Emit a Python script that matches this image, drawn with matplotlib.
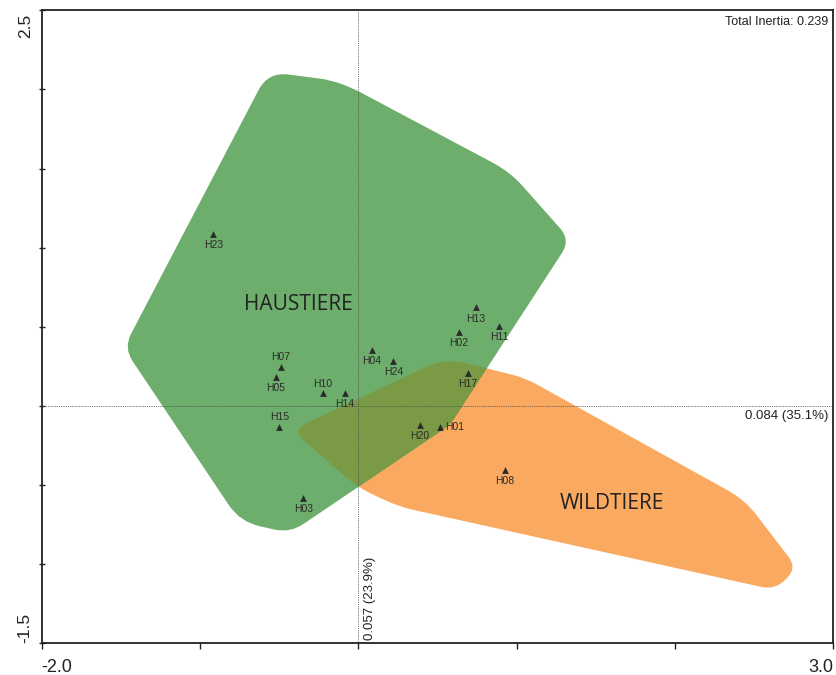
import numpy as np
import matplotlib
matplotlib.use("Agg")
import matplotlib.pyplot as plt
from matplotlib.path import Path
from matplotlib.patches import PathPatch
import matplotlib.transforms as mtransforms

plt.rcParams["font.family"] = ["Liberation Sans", "DejaVu Sans"]

# Sample scores on the first two CA dimensions
site_labels = ["H23", "H13", "H11", "H02", "H04", "H24", "H07", "H05",
               "H10", "H14", "H17", "H15", "H20", "H01", "H08", "H03"]
dim1 = [-0.916, 0.744, 0.891, 0.636, 0.085, 0.221, -0.490, -0.522,
        -0.225, -0.086, 0.691, -0.499, 0.390, 0.516, 0.927, -0.347]
dim2 = [1.087, 0.622, 0.506, 0.470, 0.354, 0.284, 0.245, 0.185,
        0.080, 0.084, 0.207, -0.131, -0.120, -0.131, -0.404, -0.583]
label_side = ["below", "below", "below", "below", "below", "below", "above", "below",
              "above", "below", "below", "above", "below", "right", "below", "below"]

# Group envelopes (hull outlines, drawn with rounded corners)
haus_x = [-0.570, -0.179, -0.040, 0.958, 1.340, 0.579, -0.431, -0.747, -1.482]
haus_y = [2.111, 2.060, 2.010, 1.479, 1.049, -0.120, -0.803, -0.733, 0.367]
haus_r = [0.13, 0.10, 0.06, 0.12, 0.10, 0.05, 0.10, 0.13, 0.10]
wild_x = [-0.419, 0.548, 1.053, 2.442, 2.771, 2.632, 0.263, -0.002]
wild_y = [-0.152, 0.303, 0.177, -0.594, -1.024, -1.163, -0.638, -0.518]
wild_r = [0.10, 0.13, 0.08, 0.12, 0.10, 0.10, 0.08, 0.12]

group_names = ["HAUSTIERE", "WILDTIERE"]
group_label_x = [-0.379, 1.600]
group_label_y = [0.643, -0.619]

inertia_text = "Total Inertia: 0.239"
axis1_text = "0.084 (35.1%)"
axis2_text = "0.057 (23.9%)"

x_ticks = [-2.0, -1.0, 0.0, 1.0, 2.0, 3.0]
x_ticklabels = ["-2.0", "", "", "", "", "3.0"]
y_ticks = [-1.5, -1.0, -0.5, 0.0, 0.5, 1.0, 1.5, 2.0, 2.5]
y_ticklabels = ["-1.5", "", "", "", "", "", "", "", "2.5"]

GREEN = "#6DAE6C"
ORANGE = "#FAAA60"
OLIVE = "#7B9A46"


def rounded_path(xs, ys, radii):
    pts = np.column_stack([xs, ys]).astype(float)
    n = len(pts)
    verts, codes = [], []
    for i in range(n):
        v = pts[i]
        p = pts[i - 1]
        q = pts[(i + 1) % n]
        dp = p - v
        dq = q - v
        lp = np.hypot(*dp)
        lq = np.hypot(*dq)
        r = min(radii[i], 0.45 * lp, 0.45 * lq)
        a = v + dp / lp * r
        b = v + dq / lq * r
        verts.append(a)
        codes.append(Path.MOVETO if i == 0 else Path.LINETO)
        verts.extend([v, b])
        codes.extend([Path.CURVE3, Path.CURVE3])
    verts.append(verts[0])
    codes.append(Path.CLOSEPOLY)
    return Path(np.array(verts), codes)


fig = plt.figure(figsize=(8.37, 6.75), dpi=100)
ax = fig.add_axes([41.7 / 837, 31.7 / 675, (833.3 - 41.7) / 837, 633 / 675])
ax.set_xlim(-2.0, 3.0)
ax.set_ylim(-1.5, 2.5)

wild_path = rounded_path(wild_x, wild_y, wild_r)
haus_path = rounded_path(haus_x, haus_y, haus_r)

wild_patch = PathPatch(wild_path, facecolor=ORANGE, edgecolor="none", zorder=1)
haus_patch = PathPatch(haus_path, facecolor=GREEN, edgecolor="none", zorder=2)
ax.add_patch(wild_patch)
ax.add_patch(haus_patch)
overlap = PathPatch(wild_path, facecolor=OLIVE, edgecolor="none", zorder=3)
ax.add_patch(overlap)
overlap.set_clip_path(haus_patch)

# Origin reference lines
ax.axhline(0, color="#4a4a4a", lw=0.6, ls=(0, (1, 1.2)), zorder=4)
ax.axvline(0, color="#4a4a4a", lw=0.6, ls=(0, (1, 1.2)), zorder=4)

ax.scatter(dim1, dim2, marker="^", s=24, color="#2b2b2b", linewidths=0, zorder=5)

offsets = {"below": ((0, -8), "center", "center"),
           "above": ((0, 7), "center", "center"),
           "right": ((4, 0), "left", "center")}
for lab, x, y, side in zip(site_labels, dim1, dim2, label_side):
    off, ha, va = offsets[side]
    ax.annotate(lab, (x, y), xytext=off, textcoords="offset points",
                ha=ha, va=va, fontsize=7.5, color="#2b2b2b", zorder=6)

for name, gx, gy in zip(group_names, group_label_x, group_label_y):
    ax.text(gx, gy, name, ha="center", va="center", fontsize=15,
            family=["Open Sans", "DejaVu Sans"], color="#222222", zorder=6)

tr0 = mtransforms.offset_copy(ax.transAxes, fig=fig, x=-5, y=-6, units="dots")
ax.text(1.0, 1.0, inertia_text, transform=tr0, ha="right", va="top",
        fontsize=9, color="#222222")

tr1 = mtransforms.offset_copy(ax.get_yaxis_transform(), fig=fig, x=-5, y=-4, units="dots")
ax.text(1.0, 0.0, axis1_text, transform=tr1, ha="right", va="top",
        fontsize=9.5, color="#222222")
tr2 = mtransforms.offset_copy(ax.get_xaxis_transform(), fig=fig, x=6, y=3, units="dots")
ax.text(0.0, 0.0, axis2_text, transform=tr2, rotation=90, ha="left", va="bottom",
        fontsize=9.5, color="#222222")

ax.set_xticks(x_ticks)
ax.set_xticklabels(x_ticklabels)
ax.set_yticks(y_ticks)
ax.set_yticklabels(y_ticklabels)
ax.tick_params(axis="x", direction="out", length=4, width=1.0, pad=7,
               labelsize=13, colors="#222222")
ax.tick_params(axis="y", direction="inout", length=5, width=1.0, pad=4,
               labelsize=12.5, colors="#222222", labelrotation=90)
xt = ax.get_xticklabels()
xt[0].set_ha("left")
xt[-1].set_ha("right")
yt = ax.get_yticklabels()
yt[0].set_va("bottom")
yt[-1].set_va("top")
# nudge the top label slightly below the frame corner
yt_top_tr = mtransforms.offset_copy(yt[-1].get_transform(), fig=fig, x=0, y=-3, units="dots")
yt[-1].set_transform(yt_top_tr)

for side in ["left", "bottom", "top", "right"]:
    ax.spines[side].set_color("#222222")
    ax.spines[side].set_linewidth(1.3)
    ax.spines[side].set_zorder(7)

fig.savefig("out.png", dpi=100)
